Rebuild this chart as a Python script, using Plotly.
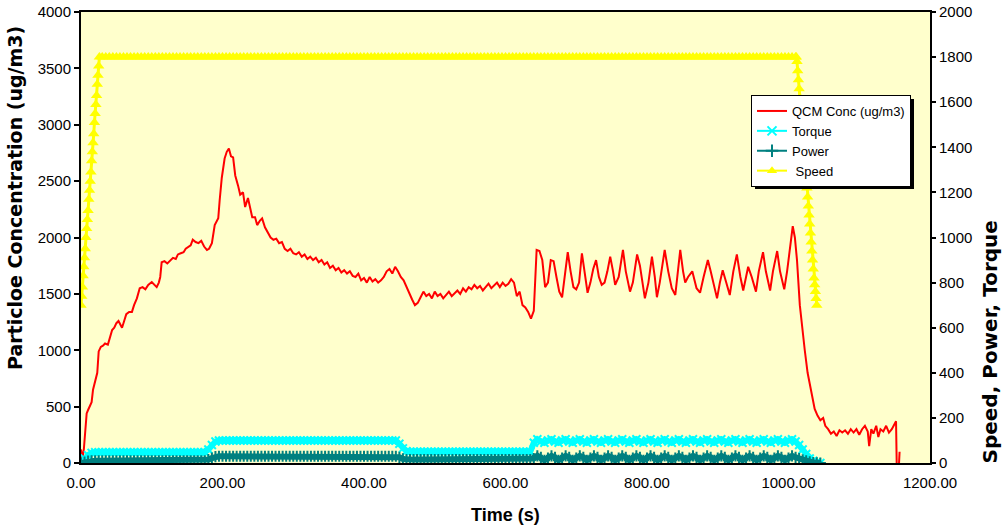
import plotly.graph_objects as go

# ---------------- data ----------------
# QCM concentration (ug/m3) vs time (s)
qcm_samples = [
    (0, 120), (2, 40), (4, 120), (6, 300), (8, 440), (10, 470), (13, 520), (15, 540),
    (17, 650), (19, 700), (21, 760), (23, 800), (25, 990), (28, 1030), (31, 1040),
    (34, 1060), (38, 1050), (41, 1120), (44, 1180), (47, 1200), (50, 1240), (53, 1260),
    (56, 1220), (58, 1200), (61, 1260), (64, 1320), (68, 1340), (72, 1340), (75, 1400),
    (79, 1460), (83, 1550), (87, 1560), (91, 1540), (95, 1580), (100, 1605), (104, 1580),
    (107, 1560), (110, 1600), (112, 1650), (114, 1780), (118, 1790), (122, 1770),
    (126, 1800), (130, 1820), (134, 1810), (137, 1850), (141, 1860), (145, 1870),
    (148, 1900), (151, 1915), (155, 1930), (158, 1980), (162, 1960), (166, 1950),
    (170, 1970), (174, 1920), (178, 1890), (181, 1900), (185, 1950), (189, 2110),
    (194, 2170), (196, 2330), (199, 2530), (203, 2700), (206, 2760), (209, 2790),
    (212, 2720), (215, 2710), (218, 2550), (222, 2460), (225, 2380), (229, 2400),
    (232, 2270), (236, 2350), (239, 2250), (242, 2180), (246, 2180), (249, 2110),
    (253, 2150), (256, 2170), (260, 2090), (264, 2050), (268, 2000), (272, 1980),
    (276, 1990), (280, 1950), (284, 1960), (288, 1900), (292, 1880), (296, 1900),
    (300, 1860), (304, 1850), (308, 1870), (312, 1830), (316, 1850), (320, 1810),
    (324, 1830), (328, 1800), (332, 1820), (336, 1780), (340, 1800), (344, 1760),
    (348, 1780), (352, 1730), (356, 1750), (360, 1710), (364, 1730), (368, 1690),
    (372, 1710), (376, 1680), (380, 1700), (384, 1660), (388, 1650), (392, 1680),
    (396, 1620), (400, 1640), (404, 1600), (408, 1650), (412, 1610), (416, 1630),
    (420, 1600), (424, 1620), (428, 1650), (432, 1700), (436, 1720), (440, 1680),
    (444, 1740), (448, 1700), (452, 1650), (456, 1620), (460, 1560), (464, 1500),
    (468, 1450), (472, 1400), (476, 1420), (480, 1470), (484, 1520), (488, 1480),
    (492, 1500), (496, 1460), (500, 1520), (504, 1480), (508, 1500), (512, 1460),
    (516, 1490), (520, 1520), (524, 1480), (528, 1510), (532, 1530), (536, 1500),
    (540, 1550), (544, 1520), (548, 1560), (552, 1540), (556, 1580), (560, 1550),
    (564, 1570), (568, 1530), (572, 1560), (576, 1590), (580, 1550), (584, 1580),
    (588, 1600), (592, 1560), (596, 1600), (600, 1570), (604, 1590), (608, 1630),
    (612, 1600), (616, 1480), (620, 1520), (624, 1400), (628, 1380), (632, 1340),
    (636, 1280), (640, 1350), (644, 1890), (648, 1880), (652, 1800), (656, 1560),
    (660, 1600), (664, 1800), (668, 1790), (672, 1650), (676, 1520), (680, 1470),
    (684, 1700), (688, 1870), (692, 1700), (696, 1560), (700, 1540), (704, 1600),
    (708, 1860), (712, 1700), (716, 1510), (720, 1600), (724, 1720), (728, 1800),
    (732, 1650), (736, 1580), (740, 1600), (744, 1700), (748, 1830), (752, 1700),
    (755, 1580), (760, 1650), (766, 1890), (770, 1700), (776, 1520), (780, 1600),
    (786, 1850), (790, 1750), (797, 1460), (802, 1600), (807, 1830), (811, 1650),
    (814, 1470), (818, 1600), (825, 1890), (830, 1700), (835, 1550), (840, 1490),
    (844, 1700), (847, 1890), (851, 1700), (854, 1600), (858, 1650), (864, 1700),
    (870, 1550), (875, 1510), (880, 1650), (886, 1800), (890, 1700), (895, 1550),
    (899, 1460), (903, 1600), (907, 1710), (912, 1600), (917, 1490), (922, 1700),
    (927, 1850), (932, 1650), (936, 1530), (940, 1650), (943, 1740), (948, 1650),
    (954, 1520), (958, 1700), (964, 1870), (968, 1700), (974, 1530), (978, 1700),
    (984, 1880), (988, 1700), (994, 1540), (998, 1700), (1002, 1900), (1006, 2100),
    (1009, 2000), (1012, 1800), (1016, 1400), (1020, 1150), (1023, 1000), (1027, 800),
    (1030, 700), (1034, 560), (1037, 480), (1041, 420), (1045, 380), (1049, 400),
    (1052, 330), (1056, 300), (1060, 260), (1064, 280), (1068, 240), (1072, 290),
    (1076, 270), (1080, 290), (1084, 260), (1088, 300), (1092, 270), (1096, 300),
    (1100, 250), (1104, 300), (1108, 330), (1112, 280), (1114, 150), (1117, 300),
    (1120, 260), (1124, 330), (1127, 230), (1130, 300), (1134, 280), (1138, 330),
    (1142, 270), (1146, 300), (1150, 350), (1152, 370), (1153, -40), (1156, -30),
    (1157, 100),
]
qcm_time = [p[0] for p in qcm_samples]
qcm_conc = [p[1] for p in qcm_samples]

# Torque and power (right axis), sampled every 5 s from 0 to 1045 s (210 samples)
tp_time = list(range(0, 1050, 5))
torque = (
    [0, 20, 35, 45]                                             # 0-15 s
    + [48, 48, 48, 48, 48, 48, 48, 48, 48, 48, 48, 48, 48, 48, 48, 48,
       48, 48, 48, 48, 48, 48, 48, 48, 48, 48, 48, 48, 48, 48, 48, 48]   # 20-175 s
    + [60, 80, 95]                                              # 180-190 s
    + [100, 100, 100, 100, 100, 100, 100, 100, 100, 100, 100, 100, 100,
       100, 100, 100, 100, 100, 100, 100, 100, 100, 100, 100, 100, 100,
       100, 100, 100, 100, 100, 100, 100, 100, 100, 100, 100, 100, 100,
       100, 100, 100, 100, 100, 100, 100, 100, 100, 100, 100, 100]    # 195-445 s
    + [85, 65, 52]                                              # 450-460 s
    + [50, 50, 50, 50, 50, 50, 50, 50, 50, 50, 50, 50, 50, 50, 50, 50, 50, 50,
       50, 50, 50, 50, 50, 50, 50, 50, 50, 50, 50, 50, 50, 50, 50, 50, 50]  # 465-635 s
    + [90]                                                      # 640 s
    + [105, 95, 90, 100, 105, 95, 90, 100, 105, 95, 90, 100, 105, 95, 90, 100,
       105, 95, 90, 100, 105, 95, 90, 100, 105, 95, 90, 100, 105, 95, 90, 100,
       105, 95, 90, 100, 105, 95, 90, 100, 105, 95, 90, 100, 105, 95, 90, 100,
       105, 95, 90, 100, 105, 95, 90, 100, 105, 95, 90, 100, 105, 95, 90, 100,
       105, 95, 90, 100, 105, 95, 90, 100, 105, 95]             # 645-1010 s
    + [80, 60, 40, 20, 10, 3, 0]                                # 1015-1045 s
)
power = (
    [0, 4, 8, 10]
    + [10, 10, 10, 10, 10, 10, 10, 10, 10, 10, 10, 10, 10, 10, 10, 10,
       10, 10, 10, 10, 10, 10, 10, 10, 10, 10, 10, 10, 10, 10, 10, 10]
    + [15, 22, 28]
    + [30, 30, 30, 30, 30, 30, 30, 30, 30, 30, 30, 30, 30,
       30, 30, 30, 30, 30, 30, 30, 30, 30, 30, 30, 30, 30,
       30, 30, 30, 30, 30, 30, 30, 30, 30, 30, 30, 30, 30,
       30, 30, 30, 30, 30, 30, 30, 30, 30, 30, 30, 30]
    + [25, 18, 15]
    + [15, 15, 15, 15, 15, 15, 15, 15, 15, 15, 15, 15, 15, 15, 15, 15, 15, 15,
       15, 15, 15, 15, 15, 15, 15, 15, 15, 15, 15, 15, 15, 15, 15, 15, 15]
    + [20]
    + [32, 25, 12, 22, 32, 25, 12, 22, 32, 25, 12, 22, 32, 25, 12, 22,
       32, 25, 12, 22, 32, 25, 12, 22, 32, 25, 12, 22, 32, 25, 12, 22,
       32, 25, 12, 22, 32, 25, 12, 22, 32, 25, 12, 22, 32, 25, 12, 22,
       32, 25, 12, 22, 32, 25, 12, 22, 32, 25, 12, 22, 32, 25, 12, 22,
       32, 25, 12, 22, 32, 25, 12, 22, 32, 25]
    + [20, 14, 9, 5, 2, 1, 0]
)

# Speed (right axis): ramp up (1 s steps), plateau (5 s steps), ramp down (1 s steps)
speed_time = list(range(0, 27)) + list(range(30, 1010, 5)) + list(range(1010, 1041))
speed = (
    [700, 740, 780, 830, 870, 910, 950, 1000, 1040, 1080, 1120, 1170, 1210, 1250,
     1290, 1340, 1380, 1420, 1460, 1510, 1550, 1590, 1630, 1680, 1720, 1760, 1800]
    + [1800, 1800, 1800, 1800, 1800, 1800, 1800, 1800, 1800, 1800, 1800, 1800, 1800, 1800,
       1800, 1800, 1800, 1800, 1800, 1800, 1800, 1800, 1800, 1800, 1800, 1800, 1800, 1800,
       1800, 1800, 1800, 1800, 1800, 1800, 1800, 1800, 1800, 1800, 1800, 1800, 1800, 1800,
       1800, 1800, 1800, 1800, 1800, 1800, 1800, 1800, 1800, 1800, 1800, 1800, 1800, 1800,
       1800, 1800, 1800, 1800, 1800, 1800, 1800, 1800, 1800, 1800, 1800, 1800, 1800, 1800,
       1800, 1800, 1800, 1800, 1800, 1800, 1800, 1800, 1800, 1800, 1800, 1800, 1800, 1800,
       1800, 1800, 1800, 1800, 1800, 1800, 1800, 1800, 1800, 1800, 1800, 1800, 1800, 1800,
       1800, 1800, 1800, 1800, 1800, 1800, 1800, 1800, 1800, 1800, 1800, 1800, 1800, 1800,
       1800, 1800, 1800, 1800, 1800, 1800, 1800, 1800, 1800, 1800, 1800, 1800, 1800, 1800,
       1800, 1800, 1800, 1800, 1800, 1800, 1800, 1800, 1800, 1800, 1800, 1800, 1800, 1800,
       1800, 1800, 1800, 1800, 1800, 1800, 1800, 1800, 1800, 1800, 1800, 1800, 1800, 1800,
       1800, 1800, 1800, 1800, 1800, 1800, 1800, 1800, 1800, 1800, 1800, 1800, 1800, 1800,
       1800, 1800, 1800, 1800, 1800, 1800, 1800, 1800, 1800, 1800, 1800, 1800, 1800, 1800,
       1800, 1800, 1800, 1800, 1800, 1800, 1800, 1800, 1800, 1800, 1800, 1800, 1800, 1800]
    + [1800, 1800, 1780, 1740, 1700, 1660, 1620, 1580, 1540, 1500, 1460, 1420, 1380,
       1340, 1300, 1260, 1220, 1180, 1140, 1100, 1060, 1020, 980, 940, 900, 860, 820,
       790, 760, 730, 700]
)

x_ticks = [0, 200, 400, 600, 800, 1000, 1200]

# ---------------- figure ----------------
FONT = "Arial, Liberation Sans, sans-serif"
WIDE = "DejaVu Sans, Verdana, sans-serif"
CYAN = "#00FFFF"
TEAL = "#008080"
YELLOW = "#FFFF00"
RED = "#FF0000"

fig = go.Figure()

fig.add_trace(go.Scatter(
    x=speed_time, y=speed, yaxis="y2", mode="lines+markers", showlegend=False,
    line=dict(color=YELLOW, width=3),
    marker=dict(symbol="triangle-up", size=10, color=YELLOW),
))
fig.add_trace(go.Scatter(
    x=tp_time, y=torque, yaxis="y2", mode="lines+markers", showlegend=False,
    line=dict(color=CYAN, width=6),
    marker=dict(symbol="x-thin", size=8, line=dict(color=CYAN, width=2)),
))
fig.add_trace(go.Scatter(
    x=tp_time, y=power, yaxis="y2", mode="lines+markers", showlegend=False,
    line=dict(color=TEAL, width=6),
    marker=dict(symbol="cross-thin", size=8, line=dict(color=TEAL, width=2)),
))
fig.add_trace(go.Scatter(
    x=qcm_time, y=qcm_conc, mode="lines", showlegend=False,
    line=dict(color=RED, width=2),
))

# legend entries
fig.add_trace(go.Scatter(x=[None], y=[None], mode="lines", name="QCM Conc (ug/m3)",
                         line=dict(color=RED, width=2)))
fig.add_trace(go.Scatter(x=[None], y=[None], mode="lines+markers", name="Torque",
                         line=dict(color=CYAN, width=2),
                         marker=dict(symbol="x-thin", size=9, line=dict(color=CYAN, width=2))))
fig.add_trace(go.Scatter(x=[None], y=[None], mode="lines+markers", name="Power",
                         line=dict(color=TEAL, width=2),
                         marker=dict(symbol="cross-thin", size=9, line=dict(color=TEAL, width=2))))
fig.add_trace(go.Scatter(x=[None], y=[None], mode="lines+markers", name=" Speed",
                         line=dict(color=YELLOW, width=2),
                         marker=dict(symbol="triangle-up", size=9, color=YELLOW)))

L, R, T, B = 81, 73, 12, 66
PW, PH = 1003 - L - R, 529 - T - B


def px(xp):
    return (xp - L) / PW


def py(yp):
    return (529 - B - yp) / PH


fig.update_layout(
    width=1003, height=529,
    margin=dict(l=L, r=R, t=T, b=B, pad=0, autoexpand=False),
    paper_bgcolor="white",
    plot_bgcolor="#FFFFCC",
    font=dict(family=FONT, size=15, color="black"),
    xaxis=dict(
        range=[0, 1200], tickvals=x_ticks, tickformat=".2f", ticks="",
        showline=True, linecolor="black", linewidth=2, mirror=True,
        showgrid=False, zeroline=False, tickfont=dict(size=15),
        automargin=False, ticklabelstandoff=5,
    ),
    yaxis=dict(
        range=[0, 4000], dtick=500, ticks="outside", ticklen=5, tickwidth=2,
        tickcolor="black", showline=True, linecolor="black", linewidth=2,
        showgrid=False, zeroline=False, tickfont=dict(size=15), automargin=False,
    ),
    yaxis2=dict(
        range=[0, 2000], dtick=200, ticks="outside", ticklen=4, tickwidth=2,
        tickcolor="black", showline=True, linecolor="black", linewidth=2,
        overlaying="y", side="right", showgrid=False, zeroline=False,
        tickfont=dict(size=15), automargin=False,
    ),
    legend=dict(
        x=px(751), y=py(95), xanchor="left", yanchor="top",
        bgcolor="white", bordercolor="black", borderwidth=1,
        font=dict(family=FONT, size=13, color="black"),
        tracegroupgap=0, itemwidth=30,
    ),
    shapes=[dict(
        type="rect", xref="paper", yref="paper",
        x0=px(755), x1=px(914), y0=py(189), y1=py(99),
        fillcolor="black", line=dict(width=0), layer="above",
    )],
    annotations=[
        dict(text="<b>Time (s)</b>", xref="paper", yref="paper", x=px(505), y=py(515),
             xanchor="center", yanchor="middle", showarrow=False,
             font=dict(family=FONT, size=18, color="black")),
        dict(text="<b>Particloe Concentration (ug/m3)</b>", xref="paper", yref="paper",
             x=px(15), y=py(372), xanchor="center", yanchor="bottom", textangle=-90,
             showarrow=False, font=dict(family=WIDE, size=19, color="black")),
        dict(text="<b>Speed, Power, Torque</b>", xref="paper", yref="paper",
             x=px(989), y=py(466), xanchor="center", yanchor="bottom", textangle=-90,
             showarrow=False, font=dict(family=WIDE, size=20, color="black")),
    ],
)

fig.write_html("out.html")
